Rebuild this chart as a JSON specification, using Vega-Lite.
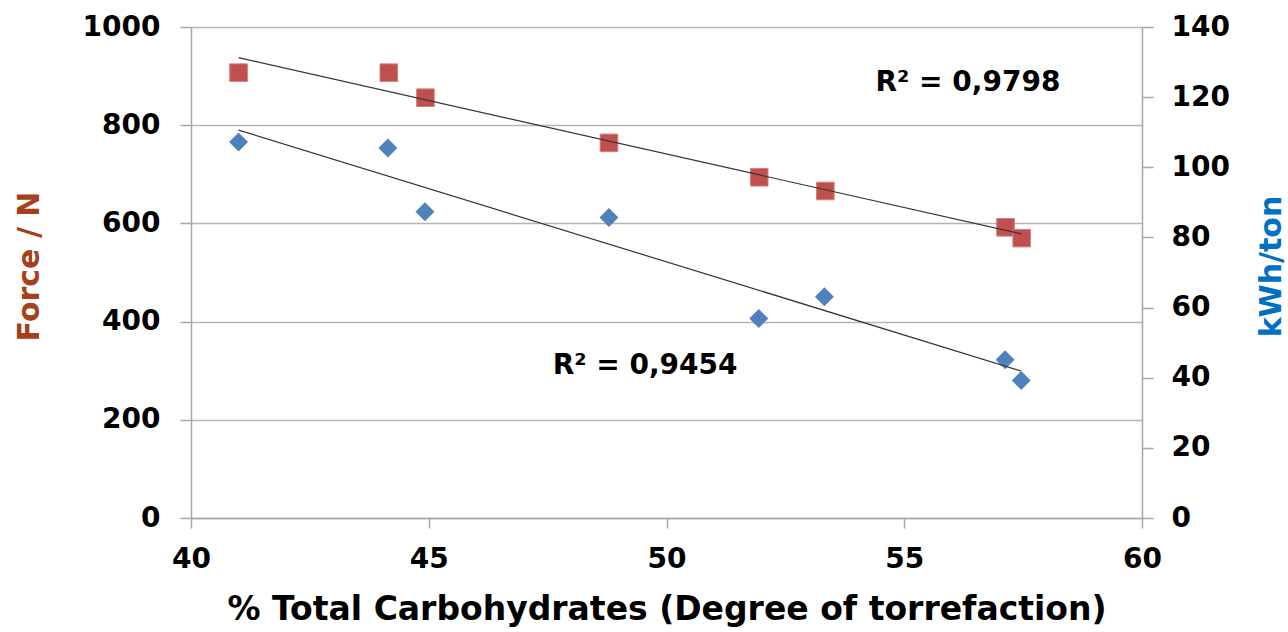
{
  "$schema": "https://vega.github.io/schema/vega-lite/v6.json",
  "width": 951,
  "height": 491,
  "autosize": {"type": "none"},
  "padding": {"left": 191, "top": 27, "right": 146, "bottom": 114},
  "background": "white",
  "config": {
    "view": {"stroke": null},
    "font": "DejaVu Sans",
    "axis": {
      "labelFont": "DejaVu Sans",
      "labelFontWeight": "bold",
      "labelFontSize": 28,
      "labelColor": "#000000",
      "labelFlush": false,
      "labelOverlap": false,
      "titleFont": "DejaVu Sans",
      "titleFontWeight": "bold",
      "titleFontSize": 30,
      "domainColor": "#a6a6a6",
      "tickColor": "#a6a6a6",
      "gridColor": "#b5b5b5",
      "domainWidth": 1.5,
      "tickWidth": 1.5,
      "gridWidth": 1.5
    }
  },
  "datasets": {
    "force": [
      {"carb": 41.0, "force": 907},
      {"carb": 44.16, "force": 907},
      {"carb": 44.93, "force": 856},
      {"carb": 48.79, "force": 764},
      {"carb": 51.95, "force": 694},
      {"carb": 53.34, "force": 666},
      {"carb": 57.13, "force": 592},
      {"carb": 57.47, "force": 570}
    ],
    "energy": [
      {"carb": 41.0, "energy": 107.2},
      {"carb": 44.14, "energy": 105.5},
      {"carb": 44.92, "energy": 87.3},
      {"carb": 48.79, "energy": 85.7},
      {"carb": 51.94, "energy": 56.9},
      {"carb": 53.32, "energy": 63.1},
      {"carb": 57.12, "energy": 45.1},
      {"carb": 57.46, "energy": 39.2}
    ],
    "forceTrend": [
      {"carb": 41.0, "force": 937.5},
      {"carb": 57.47, "force": 578.5}
    ],
    "energyTrend": [
      {"carb": 41.0, "energy": 110.6},
      {"carb": 57.46, "energy": 41.9}
    ],
    "forceLabel": [
      {"carb": 56.34, "force": 885, "label": "R² = 0,9798"}
    ],
    "energyLabel": [
      {"carb": 49.55, "energy": 43.3, "label": "R² = 0,9454"}
    ]
  },
  "encoding": {
    "x": {
      "field": "carb",
      "type": "quantitative",
      "scale": {"domain": [40, 60], "nice": false, "zero": false},
      "axis": {
        "values": [40, 45, 50, 55, 60],
        "format": "d",
        "title": "% Total Carbohydrates (Degree of torrefaction)",
        "titleColor": "#000000",
        "titleFontSize": 33,
        "titleBaseline": "middle",
        "titleY": 91,
        "tickSize": 10,
        "labelPadding": 17,
        "grid": false
      }
    }
  },
  "layer": [
    {
      "layer": [
        {
          "data": {"name": "force"},
          "mark": {"type": "point", "shape": "square", "filled": true, "size": 310, "color": "#C0504D", "opacity": 1, "stroke": "#d77e7b", "strokeWidth": 1},
          "encoding": {
            "y": {
              "field": "force",
              "type": "quantitative",
              "scale": {"domain": [0, 1000], "nice": false},
              "axis": {
                "values": [0, 200, 400, 600, 800, 1000],
                "format": "d",
                "title": "Force / N",
                "titleColor": "#A5401A",
                "titleAngle": -90,
                "titleBaseline": "middle",
                "titleX": -162,
                "titleY": 239,
                "tickSize": 11,
                "labelPadding": 20,
                "grid": true
              }
            }
          }
        },
        {
          "data": {"name": "forceTrend"},
          "mark": {"type": "line", "color": "#333333", "strokeWidth": 1.2},
          "encoding": {"y": {"field": "force", "type": "quantitative"}}
        },
        {
          "data": {"name": "forceLabel"},
          "mark": {"type": "text", "font": "DejaVu Sans", "fontWeight": "bold", "fontSize": 28, "align": "center", "baseline": "middle", "color": "#000000"},
          "encoding": {
            "y": {"field": "force", "type": "quantitative"},
            "text": {"field": "label"}
          }
        }
      ]
    },
    {
      "layer": [
        {
          "data": {"name": "energy"},
          "mark": {"type": "point", "shape": "diamond", "filled": true, "size": 360, "color": "#4F81BD", "opacity": 1},
          "encoding": {
            "y": {
              "field": "energy",
              "type": "quantitative",
              "scale": {"domain": [0, 140], "nice": false},
              "axis": {
                "orient": "right",
                "values": [0, 20, 40, 60, 80, 100, 120, 140],
                "format": "d",
                "title": "kWh/ton",
                "titleColor": "#0070C0",
                "titleAngle": -90,
                "titleBaseline": "middle",
                "titleX": 129,
                "titleY": 239,
                "tickSize": 11,
                "labelPadding": 18,
                "grid": false
              }
            }
          }
        },
        {
          "data": {"name": "energyTrend"},
          "mark": {"type": "line", "color": "#333333", "strokeWidth": 1.2},
          "encoding": {"y": {"field": "energy", "type": "quantitative"}}
        },
        {
          "data": {"name": "energyLabel"},
          "mark": {"type": "text", "font": "DejaVu Sans", "fontWeight": "bold", "fontSize": 28, "align": "center", "baseline": "middle", "color": "#000000"},
          "encoding": {
            "y": {"field": "energy", "type": "quantitative"},
            "text": {"field": "label"}
          }
        }
      ]
    }
  ],
  "resolve": {"scale": {"y": "independent"}, "axis": {"y": "independent"}}
}
